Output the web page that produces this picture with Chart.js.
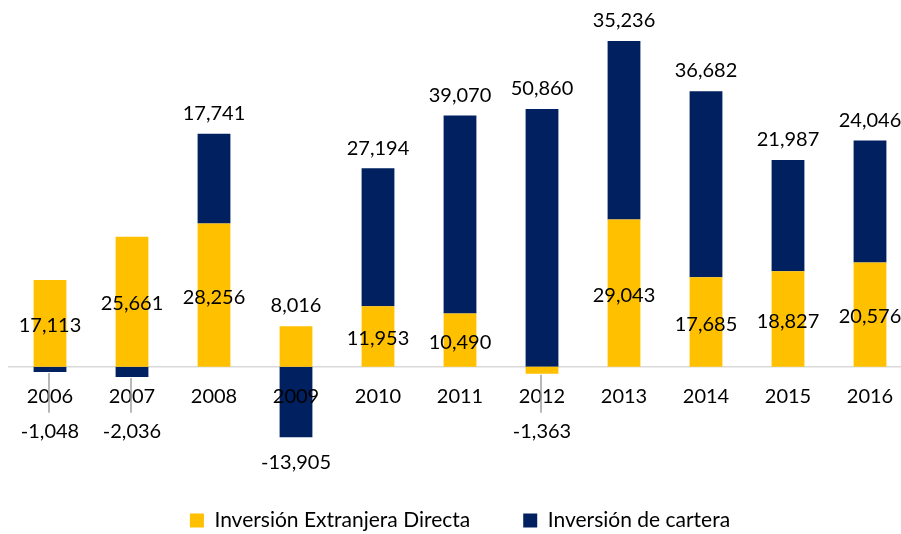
<!DOCTYPE html>
<html>
<head>
<meta charset="utf-8">
<script src="https://cdn.jsdelivr.net/npm/chart.js@4/dist/chart.umd.min.js"></script>
<style>
  html, body { margin: 0; padding: 0; overflow: hidden; background: #fff; width: 901px; height: 534px; }
  #wrap { position: absolute; left: 0; top: 0; width: 932px; height: 541px; }
</style>
</head>
<body>
<div id="wrap"><canvas id="c" width="932" height="541"></canvas></div>
<script>
// ---- data ----
const years = ['2006', '2007', '2008', '2009', '2010', '2011', '2012', '2013', '2014', '2015', '2016'];
const inversionDirecta = [17113, 25661, 28256, 8016, 11953, 10490, -1363, 29043, 17685, 18827, 20576];
const inversionCartera = [-1048, -2036, 17741, -13905, 27194, 39070, 50860, 35236, 36682, 21987, 24046];
const seriesNames = ['Inversión Extranjera Directa', 'Inversión de cartera'];
const yMin = -17800;
const yMax = 70000;

const COLOR_IED = '#FFC000';
const COLOR_CARTERA = '#002060';
const FONT = 'Lato, "Open Sans", sans-serif';

const fmt = v => v.toLocaleString('en-US');

function labelPositions(chart) {
  const zeroY = chart.scales.y.getPixelForValue(0);
  const out = [];
  chart.data.datasets.forEach((ds, di) => {
    const meta = chart.getDatasetMeta(di);
    meta.data.forEach((bar, i) => {
      const v = ds.data[i];
      const top = Math.min(bar.y, bar.base);
      const bottom = Math.max(bar.y, bar.base);
      let cy;
      let leader = false;
      if (v >= 0) {
        cy = (di === 0 && bottom - top > 50) ? (top + bottom) / 2 + 1.5 : top - 21;
      } else {
        cy = Math.max(bottom + 25, zeroY + 64);
        leader = cy - bottom > 40;
      }
      out.push({ x: bar.x, cy, bottom, leader, text: fmt(v) });
    });
  });
  return out;
}

const valueLabels = {
  id: 'valueLabels',
  afterDraw(chart) {
    const ctx = chart.ctx;
    const items = labelPositions(chart);
    ctx.save();
    ctx.strokeStyle = '#a0a0a0';
    ctx.lineWidth = 1.5;
    items.forEach(it => {
      if (it.leader) {
        ctx.beginPath();
        ctx.moveTo(it.x - 1, it.bottom + 1);
        ctx.lineTo(it.x - 1, it.cy - 18);
        ctx.stroke();
      }
    });
    ctx.font = '20px ' + FONT;
    ctx.textAlign = 'center';
    ctx.textBaseline = 'alphabetic';
    ctx.fillStyle = '#000';
    items.forEach(it => ctx.fillText(it.text, it.x, it.cy + 7.2));
    ctx.restore();
  }
};

new Chart(document.getElementById('c'), {
  type: 'bar',
  data: {
    labels: years,
    datasets: [
      { label: seriesNames[0], data: inversionDirecta, backgroundColor: COLOR_IED, borderWidth: 0 },
      { label: seriesNames[1], data: inversionCartera, backgroundColor: COLOR_CARTERA, borderWidth: 0 }
    ]
  },
  options: {
    responsive: false,
    animation: false,
    devicePixelRatio: 1,
    layout: { padding: { left: 9, right: 21, top: 12, bottom: 0 } },
    datasets: { bar: { categoryPercentage: 1.0, barPercentage: 0.4 } },
    scales: {
      x: {
        stacked: true,
        position: { y: 0 },
        grid: { display: false, drawTicks: false },
        border: { display: true, color: '#d9d9d9', width: 1.5 },
        ticks: { color: '#000', font: { family: FONT, size: 20 }, padding: 18, z: 1, maxRotation: 0, autoSkip: false }
      },
      y: {
        stacked: true,
        display: false,
        min: yMin,
        max: yMax
      }
    },
    plugins: {
      legend: {
        position: 'bottom',
        labels: {
          color: '#000',
          font: { family: FONT, size: 21 },
          boxWidth: 14,
          boxHeight: 14,
          padding: 53
        }
      },
      tooltip: { enabled: false }
    }
  },
  plugins: [valueLabels]
});
</script>
</body>
</html>
